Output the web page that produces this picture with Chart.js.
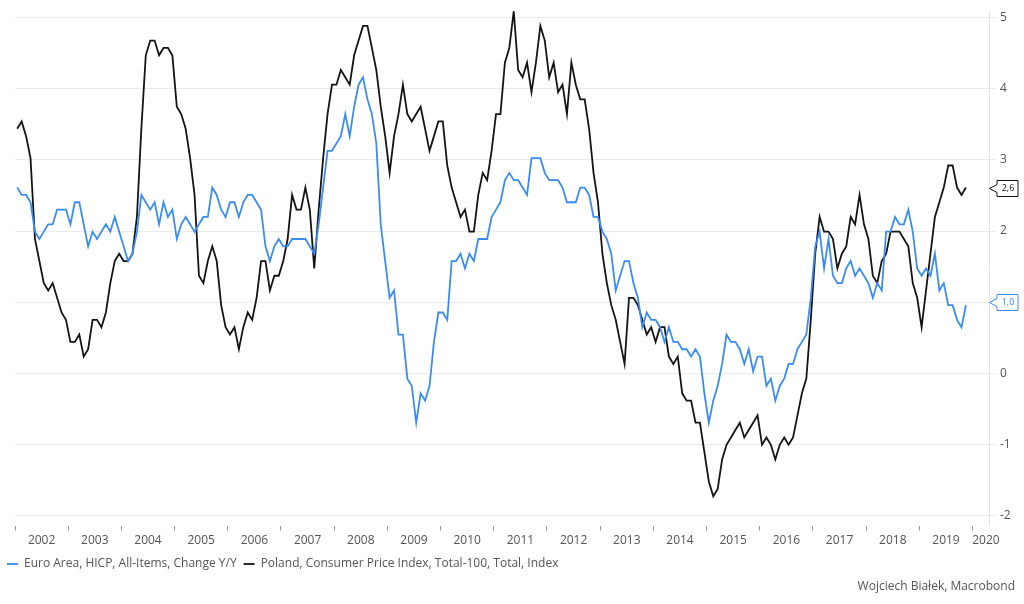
<!DOCTYPE html>
<html lang="pl">
<head>
  <meta charset="UTF-8" />
  <title>Euro Area HICP vs Poland CPI</title>
  <script src="https://cdn.jsdelivr.net/npm/chart.js"></script>
  <style>
    html, body {
      margin: 0;
      padding: 0;
      background: #ffffff;
    }
    canvas {
      display: block;
    }
  </style>
</head>
<body>
  <canvas id="chart" width="1024" height="604"></canvas>

  <script>
    // monthly y/y, Jan 2002 - Nov 2019
    const yearLabels = ['2002', '2003', '2004', '2005', '2006', '2007', '2008', '2009', '2010', '2011',
                        '2012', '2013', '2014', '2015', '2016', '2017', '2018', '2019', '2020'];
    const yTicks = [-2, -1, 0, 1, 2, 3, 4, 5];
    const seriesNames = ['Euro Area, HICP, All-Items, Change Y/Y',
                         'Poland, Consumer Price Index, Total-100, Total, Index'];

    const euroArea = [
      2.6, 2.5, 2.5, 2.4, 2.0, 1.9, 2.0, 2.1, 2.1, 2.3, 2.3, 2.3,
      2.1, 2.4, 2.4, 2.1, 1.8, 2.0, 1.9, 2.0, 2.1, 2.0, 2.2, 2.0,
      1.8, 1.6, 1.7, 2.0, 2.5, 2.4, 2.3, 2.4, 2.1, 2.4, 2.2, 2.3,
      1.9, 2.1, 2.2, 2.1, 2.0, 2.1, 2.2, 2.2, 2.6, 2.5, 2.3, 2.2,
      2.4, 2.4, 2.2, 2.4, 2.5, 2.5, 2.4, 2.3, 1.8, 1.6, 1.8, 1.9,
      1.8, 1.8, 1.9, 1.9, 1.9, 1.9, 1.8, 1.7, 2.1, 2.6, 3.1, 3.1,
      3.2, 3.3, 3.6, 3.3, 3.7, 4.0, 4.1, 3.8, 3.6, 3.2, 2.1, 1.6,
      1.1, 1.2, 0.6, 0.6, 0.0, -0.1, -0.6, -0.2, -0.3, -0.1, 0.5, 0.9,
      0.9, 0.8, 1.6, 1.6, 1.7, 1.5, 1.7, 1.6, 1.9, 1.9, 1.9, 2.2,
      2.3, 2.4, 2.7, 2.8, 2.7, 2.7, 2.6, 2.5, 3.0, 3.0, 3.0, 2.8,
      2.7, 2.7, 2.7, 2.6, 2.4, 2.4, 2.4, 2.6, 2.6, 2.5, 2.2, 2.2,
      2.0, 1.9, 1.7, 1.2, 1.4, 1.6, 1.6, 1.3, 1.1, 0.7, 0.9, 0.8,
      0.8, 0.7, 0.5, 0.7, 0.5, 0.5, 0.4, 0.4, 0.3, 0.4, 0.3, -0.2,
      -0.6, -0.3, -0.1, 0.2, 0.6, 0.5, 0.5, 0.4, 0.2, 0.4, 0.1, 0.3,
      0.3, -0.1, 0.0, -0.3, -0.1, 0.0, 0.2, 0.2, 0.4, 0.5, 0.6, 1.1,
      1.8, 2.0, 1.5, 1.9, 1.4, 1.3, 1.3, 1.5, 1.6, 1.4, 1.5, 1.4,
      1.3, 1.1, 1.3, 1.2, 2.0, 2.0, 2.2, 2.1, 2.1, 2.3, 2.0, 1.5,
      1.4, 1.5, 1.4, 1.7, 1.2, 1.3, 1.0, 1.0, 0.8, 0.7, 1.0
    ];

    const poland = [
      3.4, 3.5, 3.3, 3.0, 1.9, 1.6, 1.3, 1.2, 1.3, 1.1, 0.9, 0.8,
      0.5, 0.5, 0.6, 0.3, 0.4, 0.8, 0.8, 0.7, 0.9, 1.3, 1.6, 1.7,
      1.6, 1.6, 1.7, 2.2, 3.4, 4.4, 4.6, 4.6, 4.4, 4.5, 4.5, 4.4,
      3.7, 3.6, 3.4, 3.0, 2.5, 1.4, 1.3, 1.6, 1.8, 1.6, 1.0, 0.7,
      0.6, 0.7, 0.4, 0.7, 0.9, 0.8, 1.1, 1.6, 1.6, 1.2, 1.4, 1.4,
      1.6, 1.9, 2.5, 2.3, 2.3, 2.6, 2.3, 1.5, 2.3, 3.0, 3.6, 4.0,
      4.0, 4.2, 4.1, 4.0, 4.4, 4.6, 4.8, 4.8, 4.5, 4.2, 3.7, 3.3,
      2.8, 3.3, 3.6, 4.0, 3.6, 3.5, 3.6, 3.7, 3.4, 3.1, 3.3, 3.5,
      3.5, 2.9, 2.6, 2.4, 2.2, 2.3, 2.0, 2.0, 2.5, 2.8, 2.7, 3.1,
      3.6, 3.6, 4.3, 4.5, 5.0, 4.2, 4.1, 4.3, 3.9, 4.3, 4.8, 4.6,
      4.1, 4.3, 3.9, 4.0, 3.6, 4.3, 4.0, 3.8, 3.8, 3.4, 2.8, 2.4,
      1.7, 1.3, 1.0, 0.8, 0.5, 0.2, 1.1, 1.1, 1.0, 0.8, 0.6, 0.7,
      0.5, 0.7, 0.7, 0.3, 0.2, 0.3, -0.2, -0.3, -0.3, -0.6, -0.6, -1.0,
      -1.4, -1.6, -1.5, -1.1, -0.9, -0.8, -0.7, -0.6, -0.8, -0.7, -0.6, -0.5,
      -0.9, -0.8, -0.9, -1.1, -0.9, -0.8, -0.9, -0.8, -0.5, -0.2, 0.0, 0.8,
      1.7, 2.2, 2.0, 2.0, 1.9, 1.5, 1.7, 1.8, 2.2, 2.1, 2.5, 2.1,
      1.9, 1.4, 1.3, 1.6, 1.7, 2.0, 2.0, 2.0, 1.9, 1.8, 1.3, 1.1,
      0.7, 1.2, 1.7, 2.2, 2.4, 2.6, 2.9, 2.9, 2.6, 2.5, 2.6
    ];

    const blue = '#3a8cf2';
    const black = '#141414';
    const textColor = '#555555';
    const fontFamily = '"Open Sans", "Noto Sans", sans-serif';
    const xMax = 219.7;  // months from Jan 2002

    // month index -> x, points sit mid-month
    const toPoints = arr => arr.map((v, i) => ({ x: i + 0.5, y: v }));

    // little boxed value tags at the right edge
    const lastValueTags = {
      id: 'lastValueTags',
      afterDraw(chart) {
        const ctx = chart.ctx;
        const yScale = chart.scales.y;
        const left = chart.chartArea.right;
        chart.data.datasets.forEach(ds => {
          const last = ds.data[ds.data.length - 1].y;
          const y = Math.round(yScale.getPixelForValue(last)) + 0.5;
          const bx = left + 8, bw = 21, bh = 8;
          ctx.save();
          ctx.beginPath();
          ctx.moveTo(left + 0.5, y);
          ctx.lineTo(bx, y - 4);
          ctx.lineTo(bx, y - bh);
          ctx.lineTo(bx + bw, y - bh);
          ctx.lineTo(bx + bw, y + bh);
          ctx.lineTo(bx, y + bh);
          ctx.lineTo(bx, y + 4);
          ctx.closePath();
          ctx.fillStyle = '#ffffff';
          ctx.fill();
          ctx.lineWidth = 1;
          ctx.strokeStyle = ds.borderColor;
          ctx.stroke();
          ctx.fillStyle = ds.borderColor;
          ctx.font = '9px ' + fontFamily;
          ctx.textAlign = 'center';
          ctx.textBaseline = 'middle';
          ctx.fillText(last.toFixed(1).replace('.', ','), bx + bw / 2 + 0.5, y);
          ctx.restore();
        });
      }
    };

    const credit = {
      id: 'credit',
      afterDraw(chart) {
        const ctx = chart.ctx;
        ctx.save();
        ctx.fillStyle = textColor;
        ctx.font = '12px ' + fontFamily;
        ctx.textAlign = 'right';
        ctx.textBaseline = 'middle';
        ctx.fillText('Wojciech Białek, Macrobond', 1015, 587);
        ctx.restore();
      }
    };

    new Chart(document.getElementById('chart'), {
      type: 'line',
      data: {
        datasets: [{
          label: seriesNames[0],
          data: toPoints(euroArea),
          borderColor: blue,
          backgroundColor: blue,
          borderWidth: 1.8,
          pointRadius: 0,
          tension: 0
        }, {
          label: seriesNames[1],
          data: toPoints(poland),
          borderColor: black,
          backgroundColor: black,
          borderWidth: 1.8,
          pointRadius: 0,
          tension: 0
        }]
      },
      options: {
        responsive: false,
        animation: false,
        layout: { padding: { top: 5, right: 0, bottom: 24, left: 0 } },
        plugins: {
          tooltip: { enabled: false },
          legend: {
            position: 'bottom',
            align: 'start',
            labels: {
              usePointStyle: true,
              pointStyle: 'line',
              pointStyleWidth: 11,
              padding: 7,
              color: textColor,
              font: { family: fontFamily, size: 12 }
            }
          }
        },
        scales: {
          x: {
            type: 'linear',
            min: 0,
            max: xMax,
            border: { display: false },
            grid: {
              drawOnChartArea: false,
              tickLength: 5,
              color: c => (c.tick && c.tick.value % 12 === 0) ? '#9a9a9a' : 'rgba(0,0,0,0)'
            },
            afterBuildTicks: axis => {
              const ticks = [];
              yearLabels.forEach((lab, k) => {
                if (k * 12 <= xMax) ticks.push({ value: k * 12 });
                const mid = Math.min(k * 12 + 6, xMax - 0.7);
                ticks.push({ value: mid, label: lab });
              });
              axis.ticks = ticks;
            },
            ticks: {
              autoSkip: false,
              maxRotation: 0,
              padding: 3,
              color: textColor,
              font: { family: fontFamily, size: 12 },
              callback: (v, i, ticks) => ticks[i].label || ''
            }
          },
          yLeft: {
            position: 'left',
            grid: { display: false },
            border: { display: false },
            ticks: { display: false },
            afterFit: s => { s.width = 15; }
          },
          y: {
            position: 'right',
            min: -2.14,
            max: 5.09,
            afterBuildTicks: axis => {
              axis.ticks = yTicks.map(v => ({ value: v }));
            },
            grid: { color: '#ebebeb', tickLength: 7 },
            border: { color: '#e2e2e2' },
            ticks: {
              padding: 4,
              color: textColor,
              font: { family: fontFamily, size: 12 }
            },
            afterFit: s => { s.width = 35; }
          }
        }
      },
      plugins: [lastValueTags, credit]
    });
  </script>
</body>
</html>
